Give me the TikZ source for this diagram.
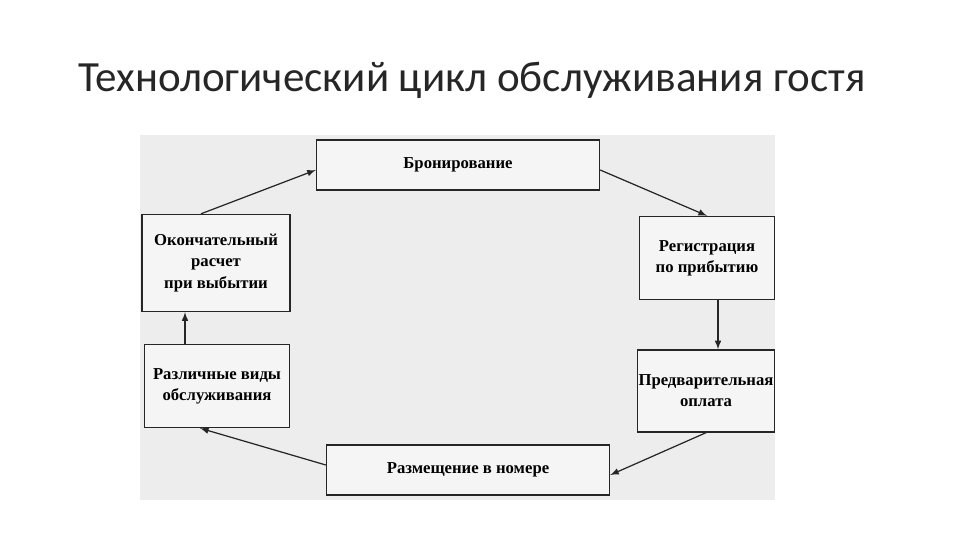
\documentclass[tikz,border=0pt]{standalone}
\usepackage{fontspec}
\setmainfont{Liberation Serif}
\newfontfamily\titlefont{Carlito}
\begin{document}
\begin{tikzpicture}[x=0.02cm,y=-0.02cm,
  bx/.style={draw=black!85,line width=0.8pt,fill=white!96!black,align=center,font=\fontsize{9.5}{12}\selectfont\bfseries,inner sep=0pt},
  ar/.style={-latex,line width=0.7pt,black!85}]
\useasboundingbox (0,0) rectangle (960,540);
\fill[black!7] (140,135) rectangle (775,500);
\node[anchor=west,font=\titlefont\fontsize{24.5}{26}\selectfont,text=black!85] (t) at (72,80) {Технологический цикл обслуживания гостя};
\node[bx,minimum width=283*0.02cm,minimum height=50*0.02cm] (b) at (458,165) {Бронирование};
\node[bx,minimum width=135*0.02cm,minimum height=83*0.02cm] (r) at (707,258) {Регистрация\\по прибытию};
\node[bx,minimum width=137*0.02cm,minimum height=82*0.02cm] (p) at (706,391) {Предварительная\\оплата};
\node[bx,minimum width=283*0.02cm,minimum height=50*0.02cm] (z) at (468,470) {Размещение в номере};
\node[bx,minimum width=145*0.02cm,minimum height=83*0.02cm] (v) at (217,386) {Различные виды\\обслуживания};
\node[bx,minimum width=148*0.02cm,minimum height=97*0.02cm] (o) at (216,263) {Окончательный\\расчет\\при выбытии};
\draw[ar] (o.north) ++(-15,0) -- ([yshift=-5*0.02cm]b.west);
\draw[ar] ([yshift=-5*0.02cm]b.east) -- (r.north);
\draw[ar] (r.south -| 718,0) -- (p.north -| 718,0);
\draw[ar] (p.south) -- ([yshift=-5*0.02cm]z.east);
\draw[ar] ([yshift=5*0.02cm]z.west) -- ([xshift=-17*0.02cm]v.south);
\draw[ar] (v.north -| 185,0) -- (o.south -| 185,0);
\end{tikzpicture}
\end{document}
